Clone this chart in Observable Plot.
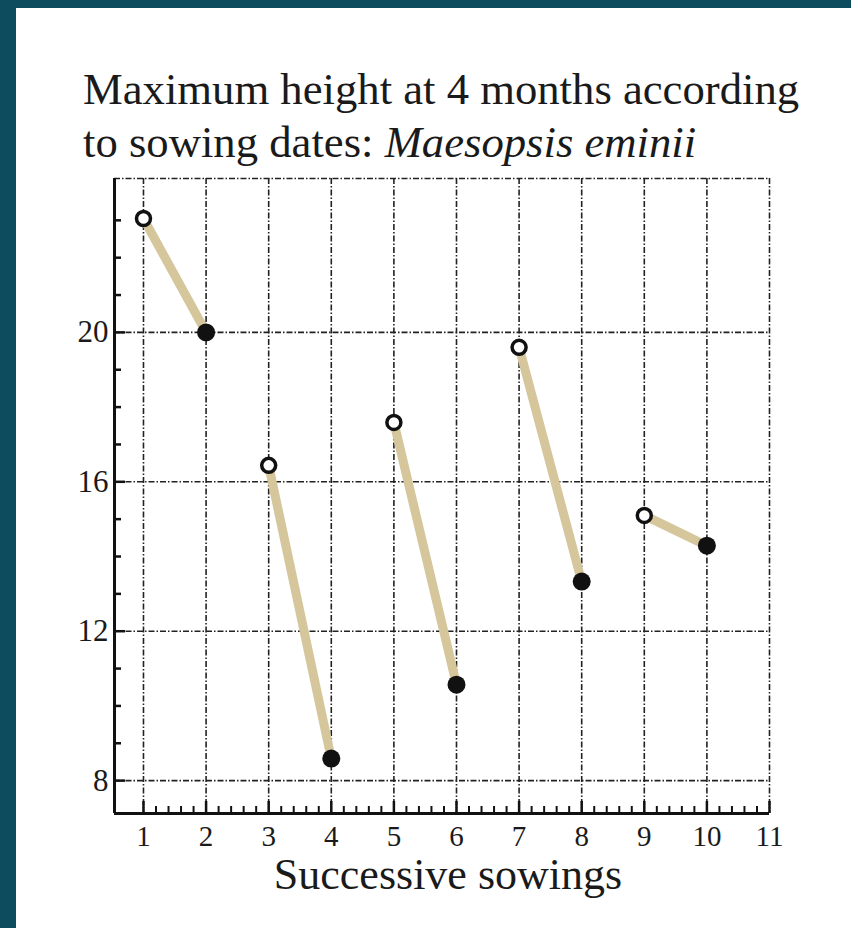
<!DOCTYPE html>
<html><head><meta charset="utf-8">
<script src="https://cdn.jsdelivr.net/npm/d3@7"></script>
<script src="https://cdn.jsdelivr.net/npm/@observablehq/plot@0.6"></script>
<style>
html,body{margin:0;padding:0;}
body{width:851px;height:928px;background:#0d4b5f;position:relative;overflow:hidden;font-family:"Liberation Serif","Times New Roman",serif;}
#panel{position:absolute;left:16px;top:8px;width:835px;height:920px;background:#fff;}
#title{position:absolute;left:83px;top:63.3px;font-size:44.7px;line-height:53px;color:#1a1a1a;white-space:nowrap;margin:0;font-weight:normal;}
#chart{position:absolute;left:0;top:170px;}
</style></head><body>
<div id="panel"></div>
<h1 id="title">Maximum height at 4 months according<br>to sowing dates: <i>Maesopsis eminii</i></h1>
<div id="chart"></div>
<script>
// Data
const sowing = [1, 2, 3, 4, 5, 6, 7, 8, 9, 10];
const height = [23.05, 20.0, 16.44, 8.59, 17.59, 10.57, 19.6, 13.33, 15.1, 14.29];
const pairId = [1, 1, 2, 2, 3, 3, 4, 4, 5, 5];
const marker = ["open", "filled", "open", "filled", "open", "filled", "open", "filled", "open", "filled"];
const xTicks = [1, 2, 3, 4, 5, 6, 7, 8, 9, 10, 11];
const yTicks = [8, 12, 16, 20];
const yMinorTicks = [9, 10, 11, 13, 14, 15, 17, 18, 19, 21, 22, 23];
const xDomain = [0.537, 11];
const yDomain = [7.12, 24.12];
const xMinorTicks = d3.range(1, 11.001, 0.2).filter(v => Math.abs(v - Math.round(v)) > 1e-6);

const data = sowing.map((s, i) => ({sowing: s, height: height[i], pair: pairId[i], marker: marker[i]}));

const W = 851, H = 758, mL = 114, mR = 82, mT = 8, mB = 115;
const plotW = W - mL - mR, plotH = H - mT - mB;
const grid = {stroke: "#222", strokeWidth: 1.6, strokeDasharray: "6,2,1.5,2"};

const chart = Plot.plot({
  width: W, height: H,
  marginLeft: mL, marginRight: mR, marginTop: mT, marginBottom: mB,
  style: {background: "transparent", color: "#1a1a1a", fontFamily: "Liberation Serif, Times New Roman, serif"},
  x: {domain: xDomain, label: null},
  y: {domain: yDomain, label: null},
  marks: [
    Plot.ruleX(xTicks, grid),
    Plot.ruleY([...yTicks, yDomain[1]], grid),
    Plot.ruleX(xMinorTicks, {stroke: "#111", strokeWidth: 2, insetTop: plotH - 7}),
    Plot.ruleX(xTicks, {stroke: "#111", strokeWidth: 2.5, insetTop: plotH - 12}),
    Plot.ruleY(yMinorTicks, {stroke: "#111", strokeWidth: 2.5, insetRight: plotW - 7}),
    Plot.ruleY(yTicks, {stroke: "#111", strokeWidth: 2.5, insetRight: plotW - 11}),
    Plot.ruleY([yDomain[0]], {stroke: "#111", strokeWidth: 3}),
    Plot.ruleX([xDomain[0]], {stroke: "#111", strokeWidth: 3}),
    Plot.line(data, {x: "sowing", y: "height", z: "pair", stroke: "#d6c69c", strokeWidth: 9}),
    Plot.dot(data.filter(d => d.marker === "open"), {x: "sowing", y: "height", r: 7, fill: "white", stroke: "#111", strokeWidth: 3.5}),
    Plot.dot(data.filter(d => d.marker === "filled"), {x: "sowing", y: "height", r: 9, fill: "#111"}),
    Plot.axisX({ticks: xTicks, tickSize: 0, tickPadding: 12, fontSize: 29, tickFormat: d => String(d)}),
    Plot.axisY({ticks: yTicks, tickSize: 0, tickPadding: 6, fontSize: 31, tickFormat: d => String(d)}),
    Plot.text(["Successive sowings"], {frameAnchor: "bottom", lineAnchor: "bottom", dy: 75, dx: 6, fontSize: 44, fill: "#1a1a1a"})
  ]
});
document.getElementById("chart").appendChild(chart);
</script>
</body></html>
